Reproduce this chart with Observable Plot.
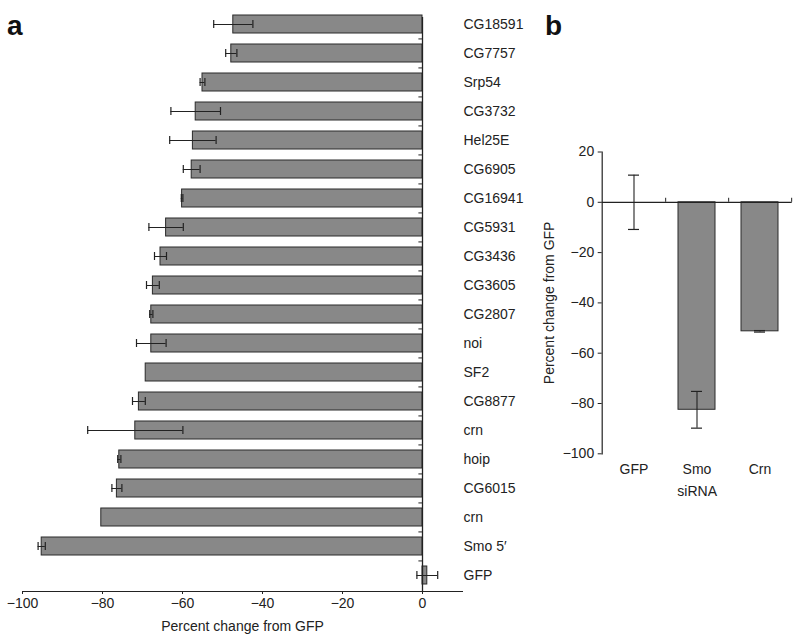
<!DOCTYPE html>
<html><head><meta charset="utf-8">
<script src="https://cdn.jsdelivr.net/npm/d3@7"></script>
<script src="https://cdn.jsdelivr.net/npm/@observablehq/plot@0.6"></script>
<style>
body{margin:0;background:#fff;}
#wrap{position:relative;width:800px;height:642px;overflow:hidden;background:#fff;}
.panel{position:absolute;top:0;}
.letter{position:absolute;font-family:"Liberation Sans",Arial,sans-serif;font-weight:700;font-size:28px;color:#111;line-height:1;}
</style></head><body>
<div id="wrap">
  <div id="pa" class="panel" style="left:0"></div>
  <div id="pb" class="panel" style="left:540px"></div>
  <div class="letter" style="left:7px;top:12px">a</div>
  <div class="letter" style="left:545px;top:12px">b</div>
</div>
<script>
// Panel a data
const namesA = ["CG18591","CG7757","Srp54","CG3732","Hel25E","CG6905","CG16941","CG5931","CG3436","CG3605","CG2807","noi","SF2","CG8877","crn","hoip","CG6015","crn","Smo 5\u2032","GFP"];
const valuesA = [-47.3,-47.8,-55.0,-56.7,-57.4,-57.7,-60.1,-64.1,-65.5,-67.4,-67.8,-67.8,-69.2,-70.9,-71.8,-75.8,-76.4,-80.3,-95.2,1.2];
const errorsA = [4.9,1.4,0.6,6.2,5.8,2.1,0.2,4.3,1.5,1.6,0.4,3.7,0,1.6,11.9,0.4,1.25,0,0.9,2.6];
const ticksA = [-100,-80,-60,-40,-20,0];

// Panel b data
const catsB = ["GFP","Smo","Crn"];
const valuesB = [0,-82.5,-51.3];
const errorsB = [10.8,7.3,0.3];
const ticksB = [-100,-80,-60,-40,-20,0,20];

const fmt = d => d < 0 ? "\u2212" + Math.abs(d) : String(d);
const ink = "#222";
const barFill = "#888";
const style = {fontFamily:"'Liberation Sans', Arial, sans-serif", fontSize:"14px", color:ink, background:"transparent", overflow:"visible"};

const idxA = namesA.map((_, i) => i);
const dataA = namesA.map((name, i) => ({i, name, value: valuesA[i], err: errorsA[i]}));
const errA = dataA.filter(d => d.err > 0);
const yTop = 8, yBot = 591;
const stepA = (yBot - yTop) / namesA.length;

const plotA = Plot.plot({
  width: 540, height: 642,
  marginLeft: 22, marginRight: 78, marginTop: 17, marginBottom: 642 - yBot,
  style,
  x: {domain: [-100, 10]},
  y: {type: "band", domain: idxA, range: [yTop, yBot], paddingInner: 0.39, paddingOuter: 0.195},
  marks: [
    Plot.barX(dataA, {x: "value", y: "i", fill: barFill, stroke: "#2a2a2a", strokeWidth: 1}),
    Plot.ruleY(errA, {y: "i", x1: d => d.value - d.err, x2: d => d.value + d.err, stroke: ink, strokeWidth: 1}),
    Plot.tickX(errA, {x: d => d.value - d.err, y: "i", insetTop: 5, insetBottom: 5, stroke: ink, strokeWidth: 1.2}),
    Plot.tickX(errA, {x: d => d.value + d.err, y: "i", insetTop: 5, insetBottom: 5, stroke: ink, strokeWidth: 1.2}),
    Plot.ruleX([0], {stroke: ink, strokeWidth: 1.3}),
    Plot.ruleY(idxA.slice(1), {y: d => d, x1: -0.9, x2: 0, dy: -stepA / 2, stroke: ink}),
    Plot.frame({anchor: "bottom", stroke: ink}),
    Plot.axisX({ticks: ticksA, tickSize: 3, tickPadding: 4, tickFormat: fmt,
      label: "Percent change from GFP", labelAnchor: "center", labelOffset: 39.5, labelArrow: "none"}),
    Plot.axisY({anchor: "right", tickSize: 0, tickPadding: 1, tickFormat: i => namesA[i], label: null})
  ]
});
document.getElementById("pa").appendChild(plotA);

const dataB = catsB.map((cat, i) => ({cat, value: valuesB[i], err: errorsB[i]}));
const mL = 61.7, mR = 8.3;
const stepB = (260 - mL - mR) / catsB.length;

const plotB = Plot.plot({
  width: 260, height: 642,
  marginLeft: mL, marginRight: mR, marginTop: 151.5, marginBottom: 188.7,
  style,
  x: {type: "band", domain: catsB, paddingInner: 0.41, paddingOuter: 0.205},
  y: {domain: [-100, 20]},
  marks: [
    Plot.barY(dataB, {x: "cat", y: "value", fill: barFill, stroke: "#2a2a2a", strokeWidth: 1}),
    Plot.ruleX(dataB, {x: "cat", y1: d => d.value - d.err, y2: d => d.value + d.err, stroke: ink, strokeWidth: 1.1}),
    Plot.tickY(dataB, {x: "cat", y: d => d.value - d.err, insetLeft: 13, insetRight: 13, stroke: ink, strokeWidth: 1.2}),
    Plot.tickY(dataB, {x: "cat", y: d => d.value + d.err, insetLeft: 13, insetRight: 13, stroke: ink, strokeWidth: 1.2}),
    Plot.ruleY([0], {stroke: ink, strokeWidth: 1.3}),
    Plot.ruleX(catsB, {x: d => d, dx: stepB / 2, y1: 0, y2: 1.6, stroke: ink}),
    Plot.frame({anchor: "left", stroke: ink, strokeWidth: 1.2}),
    Plot.axisY({ticks: ticksB, tickSize: 4, tickPadding: 4, tickFormat: fmt,
      label: "Percent change from GFP", labelAnchor: "center", labelOffset: 58, labelArrow: "none"}),
    Plot.axisX({tickSize: 0, tickPadding: 10, label: "siRNA", labelAnchor: "center", labelOffset: 42.5, labelArrow: "none"})
  ]
});
document.getElementById("pb").appendChild(plotB);
</script>
</body></html>
